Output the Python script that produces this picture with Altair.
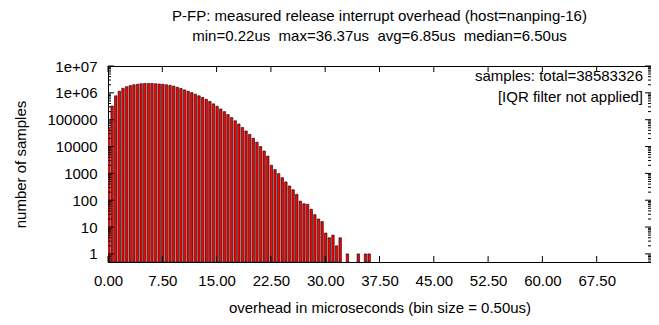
import altair as alt
import pandas as pd

# ---- data ----
bin_start = [0.0, 0.5, 1.0, 1.5, 2.0, 2.5, 3.0, 3.5, 4.0, 4.5,
             5.0, 5.5, 6.0, 6.5, 7.0, 7.5, 8.0, 8.5, 9.0, 9.5,
             10.0, 10.5, 11.0, 11.5, 12.0, 12.5, 13.0, 13.5, 14.0, 14.5,
             15.0, 15.5, 16.0, 16.5, 17.0, 17.5, 18.0, 18.5, 19.0, 19.5,
             20.0, 20.5, 21.0, 21.5, 22.0, 22.5, 23.0, 23.5, 24.0, 24.5,
             25.0, 25.5, 26.0, 26.5, 27.0, 27.5, 28.0, 28.5, 29.0, 29.5,
             30.0, 30.5, 31.0, 31.5, 32.0, 33.0, 34.5, 35.5, 36.0]
counts = [47000, 324000, 776000, 1150000, 1480000, 1700000, 1860000, 2000000, 2090000, 2190000,
          2240000, 2240000, 2240000, 2190000, 2140000, 2090000, 2000000, 1900000, 1780000, 1620000,
          1450000, 1290000, 1150000, 1020000, 891000, 776000, 676000, 575000, 479000, 389000,
          316000, 251000, 200000, 155000, 120000, 91000, 69000, 51000, 38000, 28200,
          20400, 14500, 10000, 6800, 4400, 2000, 1380, 980, 690, 480,
          340, 245, 166, 93, 74, 71, 46, 29, 20, 16,
          6, 4, 5, 2, 4, 1, 1, 1, 1]

x_ticks = [0, 7.5, 15, 22.5, 30, 37.5, 45, 52.5, 60, 67.5]
y_major = [1, 10, 100, 1000, 10000, 100000, 1000000, 10000000]
y_minor = [m * d for d in [0.1, 1, 10, 100, 1000, 10000, 100000, 1000000]
           for m in [2, 3, 4, 5, 6, 7, 8, 9] if 0.5 <= m * d <= 1e7]

title_lines = ["P-FP: measured release interrupt overhead (host=nanping-16)",
               "min=0.22us \u00a0max=36.37us \u00a0avg=6.85us \u00a0median=6.50us"]
note1 = "samples: total=38583326"
note2 = "[IQR filter not applied]"

W, H = 543, 196
FONT = "Liberation Sans"
FS = 15

df = pd.DataFrame({"bin": bin_start, "count": counts})
df["x0"] = df["bin"] - 0.1
df["x1"] = df["bin"] + 0.24

xscale = alt.Scale(domain=[0, 75], nice=False, zero=False)
yscale = alt.Scale(type="log", domain=[0.5, 1e7], nice=False)

xaxis = alt.Axis(values=x_ticks, format=".2f", title="overhead in microseconds (bin size = 0.50us)",
                 ticks=False, grid=False, labelPadding=11, titlePadding=12,
                 domainColor="black", labelFlush=False)
yaxis = alt.Axis(values=y_major, title="number of samples", ticks=False, grid=False,
                 labelExpr="datum.value >= 1e6 ? '1e+0' + round(log(datum.value)/LN10) : format(datum.value, 'd')",
                 labelPadding=11, titlePadding=18, domainColor="black", labelFlush=False)

bars = alt.Chart(df).mark_rect(fill="#ff0000", stroke="black", strokeWidth=0.6, clip=True).encode(
    x=alt.X("x0:Q", scale=xscale, axis=xaxis),
    x2="x1:Q",
    y=alt.Y("count:Q", scale=yscale, axis=yaxis),
    y2=alt.value(H),
)

xt = pd.DataFrame({"v": x_ticks})
ymaj = pd.DataFrame({"v": y_major})
ymin = pd.DataFrame({"v": y_minor})

def xrule(y1, y2):
    return alt.Chart(xt).mark_rule(color="black", strokeWidth=1).encode(
        x=alt.X("v:Q", scale=xscale, axis=xaxis), y=alt.value(y1), y2=alt.value(y2))

def yrule(d, x1, x2):
    return alt.Chart(d).mark_rule(color="black", strokeWidth=1).encode(
        y=alt.Y("v:Q", scale=yscale, axis=yaxis), x=alt.value(x1), x2=alt.value(x2))

ticks = [
    xrule(H, H - 6), xrule(0, 6),
    yrule(ymaj, 0, 6), yrule(ymaj, W - 6, W),
    yrule(ymin, 0, 3), yrule(ymin, W - 3, W),
]

t1 = alt.Chart(pd.DataFrame({"t": [note1]})).mark_text(
    align="right", baseline="middle", font=FONT, fontSize=FS, color="black").encode(
    x=alt.value(W - 8), y=alt.value(10), text="t:N")
t2 = alt.Chart(pd.DataFrame({"t": [note2]})).mark_text(
    align="right", baseline="middle", font=FONT, fontSize=FS, color="black").encode(
    x=alt.value(W - 8), y=alt.value(31), text="t:N")

chart = alt.layer(bars, *ticks, t1, t2).properties(
    width=W, height=H,
    background="white",
    title=alt.TitleParams(text=title_lines, fontSize=15, font=FONT, fontWeight="normal",
                          lineHeight=20, anchor="middle", offset=15, color="black"),
    autosize=alt.AutoSizeParams(type="none"),
    padding={"left": 100, "top": 58, "right": 0, "bottom": 70},
).configure_view(stroke="black", strokeWidth=1).configure_axis(
    labelFont=FONT, titleFont=FONT, labelFontSize=FS, titleFontSize=FS,
    labelColor="black", titleColor="black", titleFontWeight="normal", domainWidth=1,
)

chart.save("out.html", embed_options={"renderer": "svg", "actions": False})
